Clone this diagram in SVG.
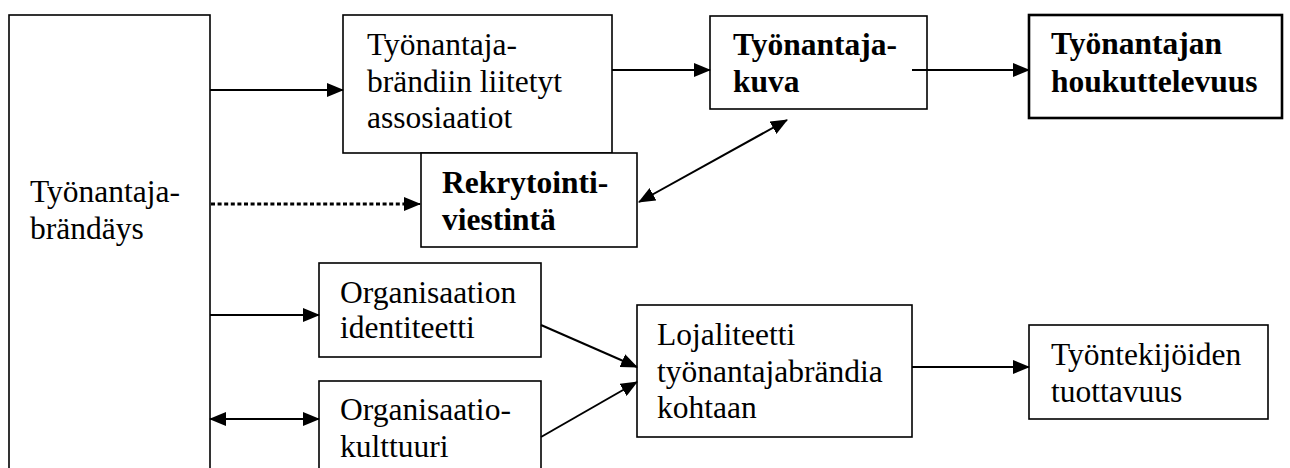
<svg xmlns="http://www.w3.org/2000/svg" width="1290" height="468" viewBox="0 0 1290 468">
<style>
.box{fill:#fff;stroke:#000;stroke-width:1.6}
.thick{stroke-width:2.6}
.t{font-family:"Liberation Serif","Tinos","DejaVu Serif",serif;font-size:31.5px;fill:#000}
.b{font-weight:bold}
.ln{stroke:#000;stroke-width:2;fill:none}
.dot{stroke:#000;stroke-width:3.2;fill:none;stroke-dasharray:4 2.6}
</style>
<defs>
<marker id="ah" markerUnits="userSpaceOnUse" markerWidth="17" markerHeight="14" refX="16" refY="7" orient="auto-start-reverse" viewBox="0 0 17 14">
<path d="M0,0 L17,7 L0,14 Z" fill="#000"/>
</marker>
</defs>
<rect width="1290" height="468" fill="#fff"/>
<g id="n-brandays"><rect class="box" x="9" y="15" width="201" height="470"/>
<text class="t" x="30" y="202">Työnantaja-</text><text class="t" x="30" y="239">brändäys</text></g>
<g id="n-assos"><rect class="box" x="343" y="15" width="269" height="138"/>
<text class="t" x="367" y="55">Työnantaja-</text><text class="t" x="367" y="92">brändiin liitetyt</text><text class="t" x="367" y="128">assosiaatiot</text></g>
<g id="n-rekry"><rect class="box" x="421" y="153" width="216" height="94"/>
<text class="t b" x="442" y="193">Rekrytointi-</text><text class="t b" x="442" y="230">viestintä</text></g>
<g id="n-kuva"><rect class="box" x="710" y="16" width="217" height="93"/>
<text class="t b" x="733" y="55">Työnantaja-</text><text class="t b" x="733" y="92">kuva</text></g>
<g id="n-houk"><rect class="box thick" x="1029" y="15" width="253" height="103"/>
<text class="t b" x="1051" y="54">Työnantajan</text><text class="t b" x="1051" y="92">houkuttelevuus</text></g>
<g id="n-orgid"><rect class="box" x="319" y="263" width="222" height="94"/>
<text class="t" x="340" y="303">Organisaation</text><text class="t" x="340" y="338">identiteetti</text></g>
<g id="n-orgkult"><rect class="box" x="319" y="381" width="222" height="110"/>
<text class="t" x="340" y="420">Organisaatio-</text><text class="t" x="340" y="457">kulttuuri</text></g>
<g id="n-loj"><rect class="box" x="637" y="305" width="275" height="132"/>
<text class="t" x="657" y="345">Lojaliteetti</text><text class="t" x="657" y="382">työnantajabrändia</text><text class="t" x="657" y="418">kohtaan</text></g>
<g id="n-tuott"><rect class="box" x="1029" y="325" width="239" height="94"/>
<text class="t" x="1051" y="365">Työntekijöiden</text><text class="t" x="1051" y="402">tuottavuus</text></g>
<g id="connectors">
<line class="ln" x1="210" y1="90" x2="343" y2="90" marker-end="url(#ah)"/>
<line class="dot" x1="211" y1="204" x2="406" y2="204"/>
<line class="ln" x1="404" y1="204" x2="420" y2="204" marker-end="url(#ah)"/>
<line class="ln" x1="612" y1="70" x2="710" y2="70" marker-end="url(#ah)"/>
<line class="ln" x1="912" y1="70" x2="1029" y2="70" marker-end="url(#ah)"/>
<line class="ln" x1="639" y1="202" x2="787" y2="120" marker-start="url(#ah)" marker-end="url(#ah)"/>
<line class="ln" x1="210" y1="315" x2="319" y2="315" marker-end="url(#ah)"/>
<line class="ln" x1="210" y1="419" x2="319" y2="419" marker-start="url(#ah)" marker-end="url(#ah)"/>
<line class="ln" x1="541" y1="325" x2="637" y2="367" marker-end="url(#ah)"/>
<line class="ln" x1="541" y1="437" x2="637" y2="382" marker-end="url(#ah)"/>
<line class="ln" x1="912" y1="367" x2="1029" y2="367" marker-end="url(#ah)"/>
</g>
</svg>
